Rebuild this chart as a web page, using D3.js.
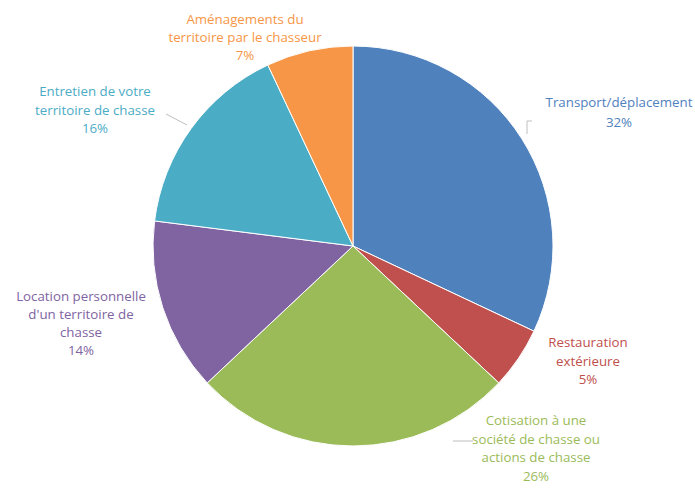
<!DOCTYPE html>
<html>
<head>
<meta charset="utf-8">
<script src="https://cdn.jsdelivr.net/npm/d3@7"></script>
<style>
  body { margin: 0; background: #fff; }
  svg text { font-family: "Open Sans", "Noto Sans", sans-serif; font-size: 13.3px; }
</style>
</head>
<body>
<div id="chart"></div>
<script>
// Pie of hunting expenses, drawn clockwise from 12 o'clock like the Excel original.
const categories = [
  'Transport/déplacement',
  'Restauration extérieure',
  'Cotisation à une société de chasse ou actions de chasse',
  "Location personnelle d'un territoire de chasse",
  'Entretien de votre territoire de chasse',
  'Aménagements du territoire par le chasseur',
];
const values = [32, 5, 26, 14, 16, 7];
const labelLines = [
  ['Transport/déplacement'],
  ['Restauration', 'extérieure'],
  ['Cotisation à une', 'société de chasse ou', 'actions de chasse'],
  ['Location personnelle', "d'un territoire de", 'chasse'],
  ['Entretien de votre', 'territoire de chasse'],
  ['Aménagements du', 'territoire par le chasseur'],
];

const COLORS = ['#4f81bd', '#c0504d', '#9bbb59', '#8064a2', '#4bacc6', '#f79646'];

// baseline of the first label line per slice, in page pixels
const LABEL_POS = [
  [619, 107], [588, 347], [536, 425], [81, 301], [95, 96], [245, 24],
];
const LINE_H = [20, 18.5, 18.5, 18, 18.5, 18];

const width = 695, height = 488;
const cx = 353, cy = 246, radius = 200;

const svg = d3.select('#chart').append('svg')
  .attr('width', width).attr('height', height);

const pie = d3.pie().sort(null).value((d) => d);
const arc = d3.arc().innerRadius(0).outerRadius(radius);

const g = svg.append('g').attr('transform', `translate(${cx},${cy})`);
g.selectAll('path')
  .data(pie(values))
  .join('path')
  .attr('d', arc)
  .attr('fill', (d, i) => COLORS[i])
  .attr('stroke', '#fff')
  .attr('stroke-width', 1);

// leader lines (light grey, like Excel's)
const leaders = [
  'M527,134 L527,121 L532,121',
  'M166,114 L187,125',
  'M453,441 L473,441',
];
leaders.forEach((p) => {
  svg.append('path').attr('d', p).attr('fill', 'none')
    .attr('stroke', '#bfbfbf').attr('stroke-width', 1);
});

labelLines.forEach((lines, i) => {
  const [x, y] = LABEL_POS[i];
  const t = svg.append('text')
    .attr('text-anchor', 'middle')
    .attr('fill', COLORS[i])
    .attr('x', x).attr('y', y);
  lines.concat([`${values[i]}%`]).forEach((line, j) => {
    t.append('tspan').attr('x', x).attr('y', y + j * LINE_H[i]).text(line);
  });
});
</script>
</body>
</html>
